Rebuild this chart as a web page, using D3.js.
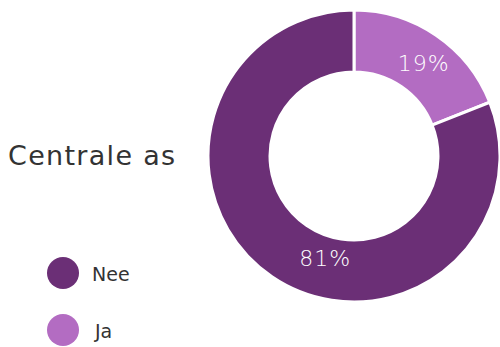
<!DOCTYPE html>
<html><head><meta charset="utf-8">
<script src="https://cdn.jsdelivr.net/npm/d3@7"></script>
<style>
html,body{margin:0;padding:0;background:#fff;}
text{font-family:"DejaVu Sans",sans-serif;}
</style></head>
<body><svg id="c" width="500" height="347"></svg>
<script>
const title = "Centrale as";
const categories = ["Ja", "Nee"];
const values = [19, 81];
const colors = ["#b36cc2", "#6b2f76"];
const legendOrder = ["Nee", "Ja"];

const svg = d3.select("#c");
const cx = 354, cy = 156, rOut = 146, rIn = 84;
const pie = d3.pie().sort(null).value(d => d.v);
const arcs = pie(categories.map((c, i) => ({c, v: values[i], col: colors[i]})));
const arc = d3.arc().innerRadius(rIn).outerRadius(rOut);
const g = svg.append("g").attr("transform", `translate(${cx},${cy})`);
g.selectAll("path").data(arcs).join("path")
  .attr("d", arc).attr("fill", d => d.data.col)
  .attr("stroke", "#fff").attr("stroke-width", 3).attr("stroke-linejoin", "miter");

// labels
g.selectAll("text.lbl").data(arcs).join("text")
  .attr("class", "lbl")
  .attr("transform", d => {
    const frac = d.data.c === "Nee" ? 0.437 : 0.54;
    const a = d.startAngle + (d.endAngle - d.startAngle) * frac;
    const r = d.data.c === "Nee" ? 106 : 116;
    return `translate(${r * Math.sin(a)},${-r * Math.cos(a)})`;
  })
  .attr("text-anchor", "middle").attr("dy", "0.36em")
  .attr("fill", "#fff").attr("font-size", 22).attr("font-weight", 200)
  .style("letter-spacing", "1px")
  .text(d => d.data.v + "%");

svg.append("text").attr("x", 8).attr("y", 165)
  .attr("font-size", 27).attr("fill", "#333").style("letter-spacing", "1.3px")
  .text(title);

const leg = svg.selectAll("g.leg").data(legendOrder).join("g")
  .attr("class", "leg")
  .attr("transform", (d, i) => `translate(63,${273 + i * 57})`);
leg.append("circle").attr("r", 16).attr("fill", d => colors[categories.indexOf(d)]);
leg.append("text").attr("x", d => d === "Ja" ? 32 : 29).attr("y", 8)
  .attr("font-size", 19).attr("fill", "#333").text(d => d);
</script></body></html>
